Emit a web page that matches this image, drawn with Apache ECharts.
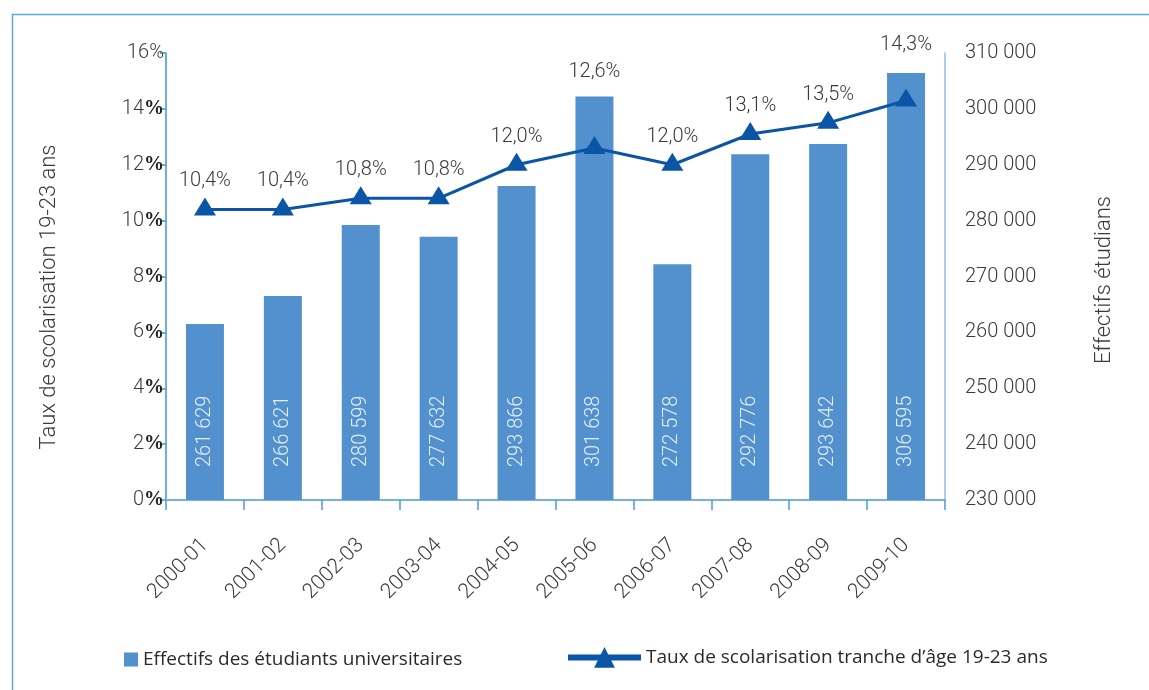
<!DOCTYPE html>
<html>
<head>
<meta charset="utf-8">
<script src="https://cdn.jsdelivr.net/npm/echarts@6/dist/echarts.min.js"></script>
<style>
  html, body { margin: 0; padding: 0; background: #fff; }
  #chart { width: 1149px; height: 690px; }
</style>
</head>
<body>
<div id="chart"></div>
<script>
// years on the x axis
const years = ["2000-01", "2001-02", "2002-03", "2003-04", "2004-05",
  "2005-06", "2006-07", "2007-08", "2008-09", "2009-10"];
// bar heights as drawn (right axis)
const students = [261500, 266500, 279200, 277100, 286200,
  302200, 272200, 291900, 293700, 306400];
// the numbers printed inside the bars
const studentLabels = ["261 629", "266 621", "280 599", "277 632", "293 866",
  "301 638", "272 578", "292 776", "293 642", "306 595"];
// enrolment rate 19-23 (left axis, %)
const rate = [10.4, 10.4, 10.8, 10.8, 12.0, 12.6, 12.0, 13.1, 13.5, 14.3];

const leftTitle = "Taux de scolarisation 19-23 ans";
const rightTitle = "Effectifs étudians";

const txt = "#3a3a3a";
const font = "Roboto";

let dom = document.getElementById("chart");
let myChart = echarts.init(dom, null, { renderer: "canvas" });

// a few line labels sit higher so they clear the bar
const labelLift = { 5: -48, 9: -27 };

const rateData = rate.map((v, i) => {
  let item = { value: v };
  if (labelLift[i] !== undefined) {
    item.label = { offset: [0, labelLift[i]] };
  }
  return item;
});

const option = {
  animation: false,
  textStyle: { fontFamily: font },
  graphic: [
    {
      type: "rect",
      shape: { x: 12.5, y: 14.5, width: 1160, height: 700 },
      style: { fill: "none", stroke: "#5aa7dc", lineWidth: 1.5 },
      silent: true,
    },
    // axis titles
    {
      type: "text",
      x: 49, y: 297,
      rotation: Math.PI / 2,
      style: {
        text: leftTitle, fill: txt,
        font: "300 22px Roboto",
        align: "center", verticalAlign: "middle",
      },
    },
    {
      type: "text",
      x: 1104, y: 280,
      rotation: Math.PI / 2,
      style: {
        text: rightTitle, fill: txt,
        font: "300 22px Roboto",
        align: "center", verticalAlign: "middle",
      },
    },
  ],
  grid: { left: 166, right: 204, top: 53, bottom: 190 },
  legend: [
    {
      data: ["Effectifs des étudiants universitaires"],
      left: 119, top: 645,
      icon: "rect",
      itemWidth: 14, itemHeight: 14, itemGap: 8,
      textStyle: { fontFamily: "Open Sans", fontSize: 19, color: "#2a2a2a" },
    },
    {
      data: ["Taux de scolarisation tranche d’âge 19-23 ans"],
      left: 560, top: 642,
      itemWidth: 73, itemHeight: 26, itemGap: 8,
      lineStyle: { width: 6 },
      textStyle: { fontFamily: "Open Sans", fontSize: 19, color: "#2a2a2a" },
    },
  ],
  xAxis: {
    type: "category",
    data: years,
    axisLine: { lineStyle: { color: "#76b1df", width: 2 } },
    axisTick: { show: true, length: 10, lineStyle: { color: "#4d9bd8", width: 1.5 } },
    axisLabel: {
      rotate: 45, color: txt, fontSize: 21, margin: 42,
      fontFamily: font, fontWeight: 300,
    },
  },
  yAxis: [
    {
      type: "value",
      min: 0, max: 16, interval: 2,
      axisLine: { show: true, lineStyle: { color: "#3d96d6", width: 1.5 } },
      axisTick: { show: true, inside: false, length: 6, lineStyle: { color: "#3d96d6", width: 1.5 } },
      splitLine: { show: false },
      axisLabel: {
        margin: 2,
        color: txt,
        fontSize: 20,
        fontWeight: 300,
        formatter: function (v) {
          return v === 16 ? "{n|16%}" : "{n|" + v + "}{p|%}";
        },
        rich: {
          n: { fontSize: 20, color: txt, fontWeight: 300, fontFamily: font },
          p: { fontSize: 20, color: "#222", fontWeight: "bold", fontFamily: "Liberation Serif" },
        },
      },
    },
    {
      type: "value",
      min: 230000, max: 310000, interval: 10000,
      position: "right",
      axisLine: { show: true, lineStyle: { color: "#8cc0e6", width: 1.5 } },
      axisTick: { show: false },
      splitLine: { show: false },
      axisLabel: {
        margin: 20,
        color: txt,
        fontSize: 20,
        fontWeight: 300,
        formatter: function (v) {
          return String(v).replace(/\B(?=(\d{3})+(?!\d))/g, " ");
        },
      },
    },
  ],
  series: [
    {
      name: "Effectifs des étudiants universitaires",
      type: "bar",
      yAxisIndex: 1,
      data: students,
      barWidth: 38,
      itemStyle: { color: "#5291ce" },
      label: {
        show: true,
        position: "insideBottom",
        rotate: 90,
        align: "left",
        verticalAlign: "middle",
        distance: 33,
        color: "#e6eff9",
        fontSize: 20,
        fontWeight: 300,
        formatter: (p) => studentLabels[p.dataIndex],
      },
    },
    {
      name: "Taux de scolarisation tranche d’âge 19-23 ans",
      type: "line",
      yAxisIndex: 0,
      data: rateData,
      symbol: "triangle",
      symbolSize: [22, 18],
      symbolOffset: [0, -3],
      lineStyle: { color: "#0b55a6", width: 3 },
      itemStyle: { color: "#0b55a6" },
      label: {
        show: true,
        position: "top",
        distance: 6,
        color: txt,
        fontSize: 20,
        fontWeight: 300,
        formatter: (p) => p.value.toFixed(1).replace(".", ",") + "%",
      },
    },
  ],
};

myChart.setOption(option);

window.addEventListener("resize", function () {
  myChart.resize();
});
</script>
</body>
</html>
